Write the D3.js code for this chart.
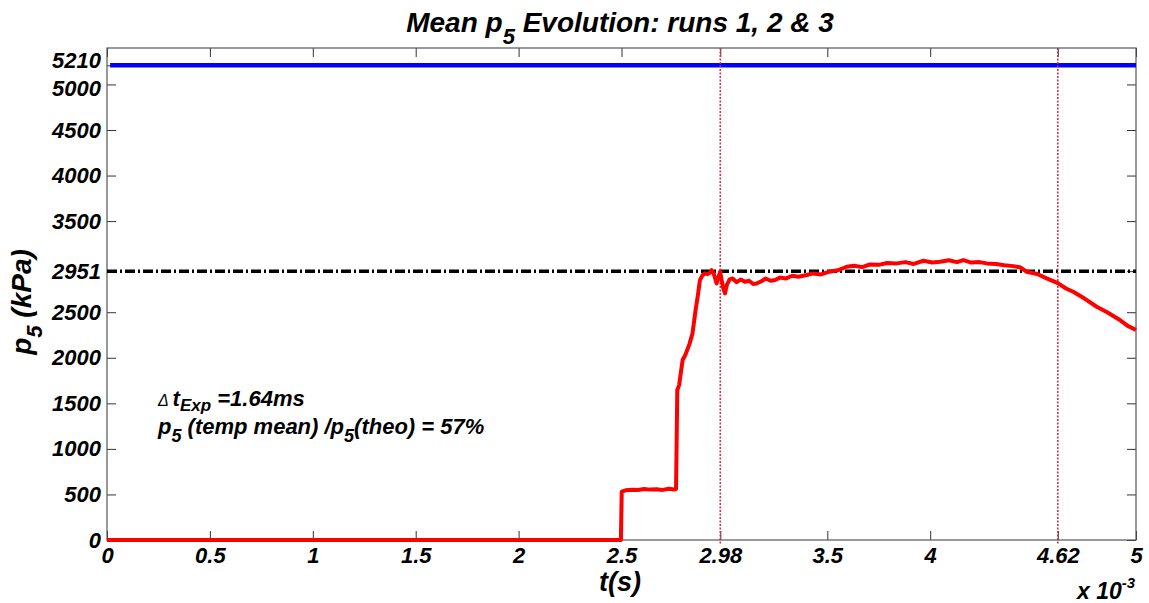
<!DOCTYPE html>
<html>
<head>
<meta charset="utf-8">
<script src="https://cdn.jsdelivr.net/npm/d3@7"></script>
<style>
  body { margin:0; background:#fff; }
  svg text { font-family: "Liberation Sans", Arial, sans-serif; font-weight: bold; font-style: italic; fill:#000; }
  .axis path { display:none; }
  .axis line { stroke:#333; }
</style>
</head>
<body>
<div id="chart"></div>
<script>
// time in units of 1e-3 s, pressure in kPa
const xTicks = [0, 0.5, 1, 1.5, 2, 2.5, 2.98, 3.5, 4, 4.62, 5];
const yTicks = [0, 500, 1000, 1500, 2000, 2500, 2951, 3500, 4000, 4500, 5000, 5210];
const p5Theo = 5210;
const p5Ref = 2951;
const markTimes = [2.98, 4.62];
// mean p5 trace of runs 1-3
const meanP5 = [
  [0,0],[2.497,0],[2.501,530],[2.52,545],[2.55,552],[2.58,548],[2.61,560],[2.64,553],
  [2.67,557],[2.70,550],[2.73,562],[2.755,555],[2.765,560],[2.771,1646],[2.78,1700],
  [2.797,1975],[2.81,2030],[2.83,2150],[2.845,2268],[2.86,2524],[2.872,2700],[2.881,2853],
  [2.893,2905],[2.905,2926],[2.918,2918],[2.93,2935],[2.938,2962],[2.947,2930],[2.955,2870],
  [2.962,2816],[2.97,2880],[2.979,2944],[2.987,2850],[2.995,2760],[3.003,2707],[3.012,2800],
  [3.025,2860],[3.04,2871],[3.06,2830],[3.08,2860],[3.10,2835],[3.12,2845],[3.14,2810],
  [3.157,2816],[3.18,2840],[3.20,2870],[3.225,2845],[3.246,2853],[3.27,2880],[3.30,2871],
  [3.33,2900],[3.36,2890],[3.40,2908],[3.43,2926],[3.47,2915],[3.51,2945],[3.55,2960],
  [3.594,2999],[3.63,3010],[3.67,2995],[3.707,3025],[3.75,3020],[3.79,3040],[3.837,3036],
  [3.88,3050],[3.92,3030],[3.967,3065],[4.01,3045],[4.048,3054],[4.09,3070],[4.13,3050],
  [4.161,3072],[4.20,3045],[4.24,3050],[4.275,3036],[4.32,3030],[4.36,3015],[4.404,3006],
  [4.44,2990],[4.469,2944],[4.52,2920],[4.566,2871],[4.62,2820],[4.66,2760],[4.695,2725],
  [4.75,2650],[4.809,2560],[4.86,2500],[4.922,2414],[4.96,2350],[5.0,2304]
];

const W = 1149, H = 603;
const m = { top:48, right:13, bottom:63, left:107 };
const iw = W - m.left - m.right, ih = H - m.top - m.bottom;

const svg = d3.select("#chart").append("svg").attr("width", W).attr("height", H);
const g = svg.append("g").attr("transform", `translate(${m.left},${m.top})`);

const x = d3.scaleLinear().domain([0, 5]).range([0, iw]);
const y = d3.scaleLinear().domain([0, 5400]).range([ih, 0]);

// MATLAB style box with inward ticks on all four sides
g.append("g").attr("class","axis").attr("transform",`translate(0,${ih})`)
  .call(d3.axisBottom(x).tickValues(xTicks).tickSizeInner(-9).tickSizeOuter(0).tickPadding(7).tickFormat(d=>String(d)))
  .selectAll("text").style("font-size","22px");
g.append("g").attr("class","axis")
  .call(d3.axisTop(x).tickValues(xTicks).tickSizeInner(-9).tickSizeOuter(0).tickFormat(""));
const gy = g.append("g").attr("class","axis")
  .call(d3.axisLeft(y).tickValues(yTicks).tickSizeInner(-9).tickSizeOuter(0).tickPadding(6).tickFormat(d=>String(d)));
gy.selectAll("text").style("font-size","22px");
// 5210 and 5000 sit almost on top of each other, nudge them apart a little
gy.selectAll(".tick").filter(d=>d===5210).select("text").attr("dy","0.1em");
gy.selectAll(".tick").filter(d=>d===5000).select("text").attr("dy","0.5em");
g.append("g").attr("class","axis").attr("transform",`translate(${iw},0)`)
  .call(d3.axisRight(y).tickValues(yTicks).tickSizeInner(-9).tickSizeOuter(0).tickFormat(""));
g.append("rect").attr("width", iw).attr("height", ih)
  .attr("fill","none").attr("stroke","#555").attr("stroke-width",1.2);

// theoretical p5
g.append("line").attr("x1", x(0.015)).attr("x2", x(5)).attr("y1", y(p5Theo)).attr("y2", y(p5Theo))
  .attr("stroke","#0000ff").attr("stroke-width",4.5);

// reference level
g.append("line").attr("x1", x(0)).attr("x2", x(5)).attr("y1", y(p5Ref)).attr("y2", y(p5Ref))
  .attr("stroke","#000").attr("stroke-width",3.5).attr("stroke-dasharray","10,3,2,3");

// window markers
g.selectAll("line.mark").data(markTimes).enter().append("line").attr("class","mark")
  .attr("x1", d=>x(d)).attr("x2", d=>x(d)).attr("y1", 0).attr("y2", ih+4)
  .attr("stroke","#c23a48").attr("stroke-width",1.6).attr("stroke-dasharray","2,1.5");

const line = d3.line().x(d=>x(d[0])).y(d=>y(d[1]));
g.append("path").datum(meanP5).attr("fill","none").attr("stroke","#ff0000")
  .attr("stroke-width",4).attr("stroke-linejoin","round").attr("d", line);

// title
const title = svg.append("text").attr("x", 620).attr("y", 32).attr("text-anchor","middle").style("font-size","28px");
title.append("tspan").text("Mean p");
title.append("tspan").attr("dy", 12).style("font-size","22px").text("5");
title.append("tspan").attr("dy", -12).text(" Evolution: runs 1, 2 & 3");

// axis labels
const yl = svg.append("text").attr("transform","translate(31,302) rotate(-90)").attr("text-anchor","middle").style("font-size","28px");
yl.append("tspan").text("p");
yl.append("tspan").attr("dy", 11).style("font-size","22px").text("5");
yl.append("tspan").attr("dy", -11).text(" (kPa)");

svg.append("text").attr("x", 620).attr("y", 591).attr("text-anchor","middle").style("font-size","27px").text("t(s)");
const ex = svg.append("text").attr("x", 1077).attr("y", 599).style("font-size","23px");
ex.append("tspan").text("x 10");
ex.append("tspan").attr("dy", -11).style("font-size","15px").text("-3");

// annotation
const a1 = svg.append("text").attr("x", 158).attr("y", 406).style("font-size","22px");
a1.append("tspan").style("font-size","16px").style("font-weight","normal").text("Δ ");
a1.append("tspan").text("t");
a1.append("tspan").attr("dy", 5).style("font-size","17px").text("Exp");
a1.append("tspan").attr("dy", -5).text(" =1.64ms");
const a2 = svg.append("text").attr("x", 158).attr("y", 434).style("font-size","22px");
a2.append("tspan").text("p");
a2.append("tspan").attr("dy", 8).style("font-size","18px").text("5");
a2.append("tspan").attr("dy", -8).text(" (temp mean) /p");
a2.append("tspan").attr("dy", 8).style("font-size","18px").text("5");
a2.append("tspan").attr("dy", -8).text("(theo) = 57%");
</script>
</body>
</html>
